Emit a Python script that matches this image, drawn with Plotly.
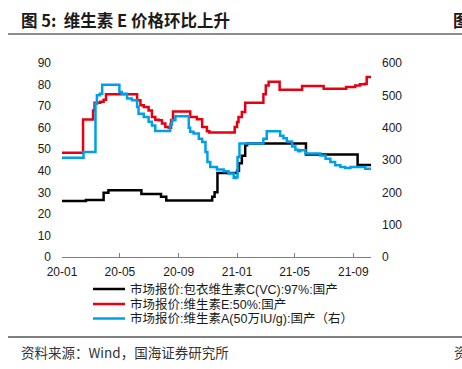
import plotly.graph_objects as go

# ---- data ----
vc_dates = ["2020-01-01","2020-02-20","2020-03-28","2020-04-07","2020-06-15","2020-07-26","2020-08-06",
            "2020-11-10","2020-11-15","2020-11-21","2021-01-01","2021-01-05","2021-01-11","2021-01-18",
            "2021-01-22","2021-05-25","2021-09-10","2021-10-08"]
vc_vals = [26.0, 26.5, 29.8, 31.0, 29.2, 28.0, 26.2, 28.0, 30.0, 39.0, 40.0, 43.5, 47.0, 51.8,
           52.6, 47.6, 42.7, 42.7]

ve_dates = ["2020-01-01","2020-02-14","2020-03-06","2020-03-09","2020-03-21","2020-03-28","2020-04-02",
            "2020-06-06","2020-06-13","2020-06-20","2020-06-30","2020-07-07","2020-07-14","2020-07-21",
            "2020-07-28","2020-08-04","2020-08-11","2020-08-16","2020-08-20","2020-09-25","2020-10-09",
            "2020-10-20","2020-10-30","2020-11-04","2020-12-27","2021-01-01","2021-01-04","2021-01-11",
            "2021-01-18","2021-02-25","2021-03-02","2021-03-08","2021-03-31","2021-05-17","2021-07-01",
            "2021-08-17","2021-09-05","2021-09-15","2021-09-26","2021-09-29","2021-10-08"]
ve_vals = [48.4, 63.8, 68.0, 71.6, 72.0, 73.0, 75.5,
           72.7, 70.4, 69.6, 68.0, 65.0, 63.7, 63.4,
           61.9, 60.3, 60.0, 63.5, 67.5, 65.0, 63.9,
           60.3, 58.3, 57.7, 60.3, 62.6, 65.0, 67.3,
           71.6, 75.5, 79.6, 81.3, 77.6, 79.3, 78.1,
           78.9, 79.6, 80.1, 80.4, 83.5, 83.8]

va_dates = ["2020-01-01","2020-02-15","2020-03-11","2020-03-14","2020-03-20","2020-03-25","2020-04-30",
            "2020-05-05","2020-05-16","2020-05-26","2020-06-06","2020-06-09","2020-06-20","2020-06-30",
            "2020-07-07","2020-07-14","2020-08-14","2020-08-18","2020-08-25","2020-09-22","2020-09-25",
            "2020-10-02","2020-10-13","2020-10-20","2020-10-27","2020-10-31","2020-11-06","2020-11-20",
            "2020-12-04","2020-12-14","2020-12-25","2020-12-30","2021-01-02","2021-01-06","2021-02-25",
            "2021-03-04","2021-04-01","2021-04-08","2021-04-15","2021-04-26","2021-05-03","2021-05-09",
            "2021-05-13","2021-05-24","2021-06-24","2021-07-05","2021-07-15","2021-07-25","2021-08-05",
            "2021-08-15","2021-08-26","2021-09-26","2021-10-08"]
va_vals = [307, 325, 474, 500, 505, 533, 510,
           505, 490, 485, 464, 443, 433, 418,
           407, 390, 410, 423, 435, 400, 387,
           382, 366, 356, 325, 294, 278, 271,
           265, 258, 244, 247, 309, 351, 366,
           389, 375, 367, 357, 342, 332, 327,
           330, 320, 314, 304, 294, 284, 278,
           275, 278, 273, 273]

x_tickvals = ["2020-01-01","2020-05-01","2020-09-01","2021-01-01","2021-05-01","2021-09-01"]
x_ticktext = ["20-01","20-05","20-09","21-01","21-05","21-09"]

names = ["市场报价:包衣维生素C(VC):97%:国产",
         "市场报价:维生素E:50%:国产",
         "市场报价:维生素A(50万IU/g):国产（右）"]
colors = ["#000000", "#E60012", "#00A0E9"]

BASE_FONT = "Liberation Sans, Arial, Noto Sans CJK SC, sans-serif"
CJK_FONT = "Noto Sans CJK SC, sans-serif"

# pixel helpers for paper-referenced decorations (plot area px 62..371 x, 63..257 y)
L, R, T, B = 62, 371, 63, 257
def px_x(p):
    return (p - L) / (R - L)
def px_y(p):
    return (B - p) / (B - T)

fig = go.Figure()
fig.add_trace(go.Scatter(x=vc_dates, y=vc_vals, name=names[0], mode="lines",
                         line=dict(color=colors[0], width=2.5, shape="hv")))
fig.add_trace(go.Scatter(x=ve_dates, y=ve_vals, name=names[1], mode="lines",
                         line=dict(color=colors[1], width=2.5, shape="hv")))
fig.add_trace(go.Scatter(x=va_dates, y=va_vals, name=names[2], mode="lines", yaxis="y2",
                         line=dict(color=colors[2], width=2.5, shape="hv")))

fig.update_layout(
    width=462, height=369,
    margin=dict(l=L, r=462 - R, t=T, b=369 - B),
    paper_bgcolor="white", plot_bgcolor="white",
    font=dict(family=BASE_FONT, size=12, color="#1a1a1a"),
    showlegend=False,
    xaxis=dict(type="date", range=["2020-01-01", "2021-10-08"],
               tickvals=x_tickvals, ticktext=x_ticktext,
               showline=True, linecolor="#808080", linewidth=1,
               ticks="inside", ticklen=4, tickcolor="#808080",
               showgrid=False, zeroline=False, ticklabelstandoff=4,
               tickfont=dict(size=12)),
    yaxis=dict(range=[0, 90], dtick=10, showgrid=False, zeroline=False,
               showline=False, ticks="", ticklabelstandoff=10,
               tickfont=dict(size=12)),
    yaxis2=dict(range=[0, 600], dtick=100, overlaying="y", side="right",
                showgrid=False, zeroline=False, showline=False, ticks="",
                ticklabelstandoff=10, tickfont=dict(size=12)),
)

# legend (drawn compactly to match the reference spacing)
legend_rows = [289, 304, 318.5]
for name, color, ry in zip(names, colors, legend_rows):
    fig.add_shape(type="line", xref="paper", yref="paper",
                  x0=px_x(93), x1=px_x(125), y0=px_y(ry), y1=px_y(ry),
                  line=dict(color=color, width=2.5))
    fig.add_annotation(xref="paper", yref="paper", x=px_x(127.5), y=px_y(ry),
                       text=name, showarrow=False, xanchor="left", yanchor="middle",
                       font=dict(family=BASE_FONT, size=12.5, color="#1a1a1a"))

# title
fig.add_annotation(xref="paper", yref="paper", x=px_x(19), y=px_y(20),
                   text="<b>图 5:  维生素 E 价格环比上升</b>", showarrow=False,
                   xanchor="left", yanchor="middle",
                   font=dict(family=CJK_FONT, size=16.5, color="#1a1a1a"))
fig.add_annotation(xref="paper", yref="paper", x=px_x(451), y=px_y(20),
                   text="<b>图</b>", showarrow=False,
                   xanchor="left", yanchor="middle",
                   font=dict(family=CJK_FONT, size=16.5, color="#1a1a1a"))
# footer
fig.add_annotation(xref="paper", yref="paper", x=px_x(19), y=px_y(352),
                   text="资料来源：Wind，国海证券研究所", showarrow=False,
                   xanchor="left", yanchor="middle",
                   font=dict(family=CJK_FONT, size=13.5, color="#333333"))
fig.add_annotation(xref="paper", yref="paper", x=px_x(452), y=px_y(352),
                   text="资", showarrow=False,
                   xanchor="left", yanchor="middle",
                   font=dict(family=CJK_FONT, size=13.5, color="#333333"))

# separator lines
fig.add_shape(type="line", xref="paper", yref="paper",
              x0=px_x(8), x1=px_x(462), y0=px_y(34), y1=px_y(34),
              line=dict(color="#666666", width=1.5))
fig.add_shape(type="line", xref="paper", yref="paper",
              x0=px_x(8), x1=px_x(462), y0=px_y(337), y1=px_y(337),
              line=dict(color="#555555", width=1.5))

fig.write_html("out.html", config={"displayModeBar": False},
               post_script="document.body.style.margin='0';")
